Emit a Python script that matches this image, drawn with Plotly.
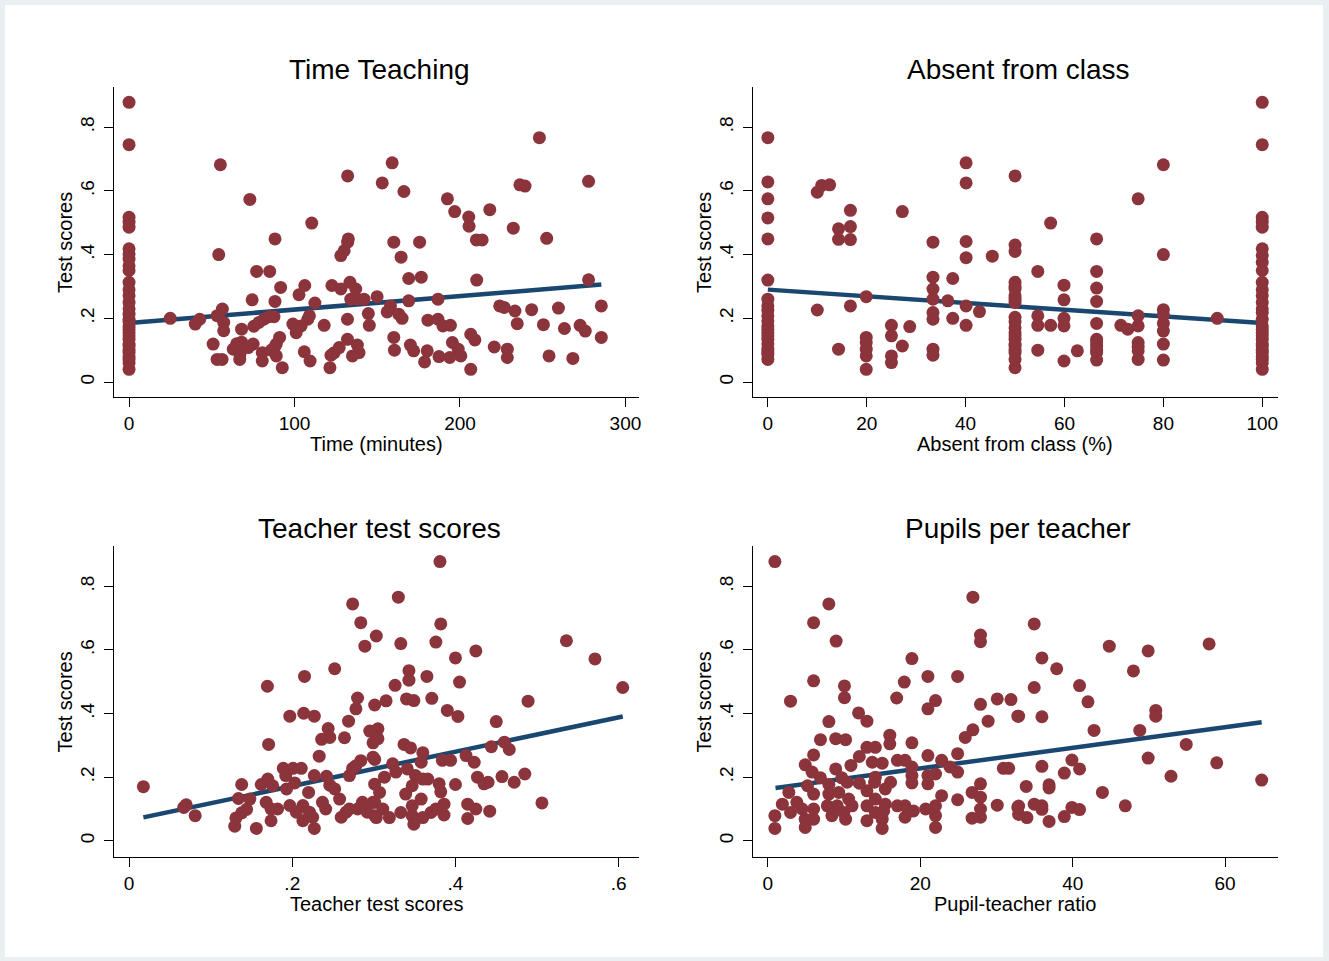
import plotly.graph_objects as go

# ---------------- data ----------------
# Panel 1: Time Teaching (minutes) vs test scores
time_x = [0]*31 + [
    24.9, 40.0, 42.7, 55.2, 54.2, 56.4, 53.2, 57.2, 57.2, 50.8, 53.2, 56.2, 68.0, 73.0, 74.4, 77.1, 85.0,
    75.4, 78.5, 81.5, 84.5, 87.6, 65, 68, 72, 75, 67, 63, 66.9, 80.5, 80.5, 86, 89, 91, 89, 88, 92.6,
    88.2, 91.6, 88.2, 102.7, 106.2, 99, 101, 104, 108, 109, 105.9, 109.4, 110.4, 112.3, 117.9, 121.4,
    122, 124, 127, 122.6, 128, 130, 132.1, 132.5, 132.1, 128, 133.5, 137, 134, 138, 142, 149.9, 132,
    132, 138, 139, 135, 144.6, 145.2, 153,
    248.0, 159.0, 166.1, 192.4, 196.8, 205.3, 205.5, 218.0, 236.2, 239.3, 277.7, 232.2, 252.4, 209.9,
    213.4, 160.0, 175.6, 164.4, 169, 176.6, 210.1, 277.7, 169, 186.7, 158, 156, 163, 165, 180.6, 186.7,
    189.7, 194.2, 160, 160.4, 170, 172, 178.6, 180.2, 187.3, 193.8, 195.4, 198.9, 200.5, 206.5, 209,
    206.5, 224, 226.7, 233.2, 234.6, 220.7, 228.6, 228.6, 243.3, 250.4, 259.5, 263.1, 253.8, 268.2,
    272.6, 275.7, 285.4, 285.4]
time_y = [0.878, 0.745, 0.517, 0.502, 0.486, 0.418, 0.402, 0.386, 0.365, 0.350, 0.313, 0.271, 0.250,
          0.213, 0.197, 0.176, 0.155, 0.134, 0.113, 0.092, 0.071, 0.040, 0.29, 0.23, 0.19, 0.165, 0.145,
          0.12, 0.10, 0.08, 0.06] + [
    0.200, 0.182, 0.197, 0.682, 0.400, 0.229, 0.208, 0.187, 0.161, 0.119, 0.071, 0.071, 0.166, 0.573,
    0.258, 0.347, 0.347, 0.175, 0.187, 0.197, 0.205, 0.205, 0.12, 0.125, 0.108, 0.119, 0.087, 0.103,
    0.071, 0.092, 0.066, 0.10, 0.119, 0.14, 0.082, 0.11, 0.045, 0.449, 0.297, 0.253, 0.274, 0.303,
    0.182, 0.155, 0.176, 0.197, 0.208, 0.095, 0.066, 0.499, 0.248, 0.178, 0.045, 0.084, 0.092, 0.108,
    0.303, 0.397, 0.412, 0.439, 0.449, 0.647, 0.292, 0.313, 0.292, 0.26, 0.26, 0.26, 0.268, 0.197,
    0.134, 0.116, 0.092, 0.082, 0.215, 0.178, 0.625,
    0.767, 0.688, 0.598, 0.575, 0.535, 0.518, 0.489, 0.541, 0.619, 0.615, 0.630, 0.483, 0.451, 0.446,
    0.446, 0.439, 0.439, 0.392, 0.325, 0.329, 0.320, 0.321, 0.255, 0.260, 0.239, 0.220, 0.213, 0.200,
    0.194, 0.197, 0.176, 0.178, 0.140, 0.100, 0.116, 0.098, 0.063, 0.098, 0.080, 0.077, 0.124, 0.103,
    0.082, 0.150, 0.132, 0.040, 0.239, 0.234, 0.223, 0.183, 0.110, 0.103, 0.077, 0.227, 0.180, 0.232,
    0.168, 0.082, 0.074, 0.178, 0.160, 0.239, 0.140]
time_fit_x = [0, 285.4]
time_fit_y = [0.185, 0.306]

# Panel 2: Absent from class (%)
absent_x = [0]*21 + [
    10.0, 10.9, 12.5, 10.0, 14.3, 16.7, 14.3, 16.7, 16.7, 14.3, 16.7, 19.9, 19.9, 19.9, 19.9, 19.9,
    19.9, 25, 25, 25, 25, 27.2, 27.2, 28.7, 33.4, 33.4, 33.4, 33.4, 33.4, 33.4, 33.4, 33.4, 37.4,
    36.4, 37.4, 40.1, 40.1, 40.1, 40.1, 40.1, 40.1, 42.8, 45.4] + [50]*21 + [
    57.2, 54.6, 54.6, 54.6, 54.6, 57.2, 59.9, 59.9, 59.9, 59.9, 59.9, 62.6] + [66.5]*11 + [
    71.4, 72.8] + [74.9]*7 + [80]*8 + [90.9] + [100]*29
absent_y = [0.767, 0.628, 0.575, 0.515, 0.449, 0.320, 0.260, 0.239, 0.208, 0.192, 0.176, 0.155, 0.134,
            0.103, 0.087, 0.071, 0.225, 0.165, 0.145, 0.12, 0.095] + [
    0.596, 0.617, 0.619, 0.226, 0.481, 0.488, 0.448, 0.447, 0.539, 0.103, 0.239, 0.268, 0.140, 0.124,
    0.103, 0.082, 0.040, 0.178, 0.145, 0.082, 0.061, 0.535, 0.113, 0.174, 0.439, 0.329, 0.292, 0.260,
    0.218, 0.197, 0.103, 0.084, 0.325, 0.255, 0.200, 0.688, 0.625, 0.441, 0.390, 0.239, 0.178, 0.221,
    0.395] + [
    0.647, 0.430, 0.410, 0.313, 0.292, 0.271, 0.250, 0.203, 0.155, 0.134, 0.113, 0.092, 0.071, 0.045,
    0.30, 0.26, 0.19, 0.17, 0.145, 0.12, 0.10] + [
    0.499, 0.347, 0.208, 0.178, 0.100, 0.178, 0.304, 0.258, 0.200, 0.176, 0.066, 0.098] + [
    0.449, 0.347, 0.295, 0.253, 0.184, 0.134, 0.113, 0.092, 0.069, 0.124, 0.10] + [
    0.178, 0.166] + [0.575, 0.208, 0.176, 0.124, 0.098, 0.071, 0.11] + [
    0.682, 0.400, 0.227, 0.184, 0.160, 0.119, 0.069, 0.21] + [0.200] + [
    0.878, 0.745, 0.517, 0.502, 0.486, 0.418, 0.397, 0.376, 0.350, 0.313, 0.271, 0.250, 0.218, 0.197,
    0.176, 0.155, 0.134, 0.113, 0.092, 0.071, 0.040, 0.29, 0.23, 0.165, 0.145, 0.12, 0.10, 0.08, 0.06]
absent_fit_x = [0, 100]
absent_fit_y = [0.290, 0.185]

# Panel 3: Teacher test scores
teacher_x = [
    0.0175, 0.067, 0.070, 0.081, 0.1295, 0.131, 0.138, 0.144, 0.148, 0.134, 0.138, 0.156, 0.1695, 0.171,
    0.162, 0.170, 0.176, 0.168, 0.174, 0.182, 0.174, 0.197, 0.214, 0.227, 0.215, 0.189, 0.201, 0.211,
    0.192, 0.203, 0.193, 0.197, 0.205, 0.213, 0.221, 0.213, 0.227, 0.225, 0.237, 0.241, 0.220, 0.227,
    0.233, 0.236, 0.244, 0.246, 0.242, 0.252, 0.246, 0.252, 0.258, 0.260, 0.266, 0.270, 0.264, 0.269,
    0.270, 0.274, 0.278, 0.284, 0.278, 0.280, 0.274, 0.284, 0.289, 0.303, 0.280, 0.286, 0.292, 0.301,
    0.295, 0.299, 0.301, 0.301, 0.301, 0.299,
    0.381, 0.330, 0.382, 0.333, 0.376, 0.400, 0.425, 0.536, 0.571, 0.605, 0.343, 0.343, 0.365, 0.326,
    0.405, 0.315, 0.340, 0.349, 0.371, 0.390, 0.403, 0.489, 0.450, 0.444, 0.460, 0.466, 0.305, 0.305,
    0.299,
    0.337, 0.345, 0.360, 0.358, 0.323, 0.327, 0.341, 0.351, 0.360, 0.347, 0.366, 0.339, 0.358, 0.347,
    0.333, 0.347, 0.360, 0.370, 0.349, 0.313, 0.307, 0.301, 0.311, 0.319, 0.303, 0.380, 0.382, 0.386,
    0.386, 0.376, 0.384, 0.394, 0.400, 0.413, 0.423, 0.427, 0.435, 0.440, 0.415, 0.425, 0.415, 0.442,
    0.457, 0.472, 0.485, 0.506]
teacher_y = [
    0.170, 0.105, 0.113, 0.079, 0.046, 0.072, 0.088, 0.099, 0.131, 0.133, 0.177, 0.039, 0.486, 0.303,
    0.177, 0.194, 0.173, 0.121, 0.100, 0.100, 0.063, 0.392, 0.401, 0.392, 0.517, 0.228, 0.228, 0.228,
    0.205, 0.182, 0.163, 0.111, 0.090, 0.111, 0.090, 0.063, 0.039, 0.074, 0.121, 0.100, 0.152, 0.205,
    0.266, 0.319, 0.353, 0.325, 0.203, 0.541, 0.175, 0.163, 0.131, 0.074, 0.090, 0.100, 0.324, 0.376,
    0.205, 0.228, 0.236, 0.252, 0.415, 0.449, 0.745, 0.686, 0.612, 0.644, 0.100, 0.121, 0.090, 0.427,
    0.345, 0.308, 0.256, 0.178, 0.079, 0.121,
    0.878, 0.766, 0.682, 0.620, 0.625, 0.575, 0.597, 0.629, 0.572, 0.482, 0.535, 0.505, 0.517, 0.489,
    0.499, 0.440, 0.446, 0.441, 0.448, 0.410, 0.391, 0.439, 0.375, 0.296, 0.310, 0.287, 0.352, 0.321,
    0.263,
    0.303, 0.292, 0.277, 0.247, 0.242, 0.216, 0.226, 0.205, 0.194, 0.173, 0.194, 0.147, 0.131, 0.110,
    0.089, 0.079, 0.073, 0.089, 0.052, 0.200, 0.152, 0.121, 0.100, 0.073, 0.073, 0.179, 0.154, 0.115,
    0.081, 0.100, 0.253, 0.253, 0.177, 0.268, 0.247, 0.200, 0.179, 0.184, 0.115, 0.100, 0.070, 0.093,
    0.202, 0.184, 0.210, 0.119]
teacher_fit_x = [0.0175, 0.605]
teacher_fit_y = [0.0735, 0.391]

# Panel 4: Pupil-teacher ratio
ratio_x = [
    0.92, 0.92, 0.92, 8.0, 6.0, 8.96, 2.97, 6.0, 10.05, 10.05, 8.0, 11.9, 13.0, 6.9, 8.9, 10.2, 6.0, 4.9,
    5.8, 6.9, 8.0, 8.9, 9.7, 10.4, 2.75, 1.9, 2.97, 3.8, 4.9, 4.9, 4.5, 6.0, 6.0, 5.2, 6.0, 7.8, 8.4,
    9.1, 9.96, 10.2, 11.05, 8.0, 9.3, 10.6, 10.9, 12.0, 12.0, 13.0, 14.1, 13.7, 15.0, 14.1, 14.0, 13.0,
    14.1, 13.0, 14.1, 13.0, 15.0, 15.0, 15.4, 16.1, 15.4, 15.2, 16.0, 16.0, 16.9, 17.9, 18.9, 18.9,
    17.0, 18.0, 18.9, 18.9, 18.9, 17.0, 18.0, 18.0, 19.1, 21.0, 21.0, 22.0, 21.0, 21.0, 21.0, 22.0,
    20.7, 22.0, 22.0, 22.0, 22.8, 22.8, 23.9, 24.9, 24.9, 24.9, 24.9, 26.9, 27.9, 27.9, 25.9, 26.9,
    27.9, 28.9, 30.1, 31.9, 30.9, 26.8, 27.9, 27.9, 27.9, 27.9, 26.8, 30.1, 32.8, 32.8,
    34.95, 44.8, 49.9, 57.9, 35.96, 37.9, 47.97, 34.95, 40.9, 42.0, 32.9, 35.96, 50.9, 50.9, 42.8,
    48.8, 54.9, 49.9, 58.9, 31.6, 35.96, 39.9, 40.9, 38.9, 52.9, 64.8, 33.9, 36.9, 36.9, 43.9, 32.9,
    32.9, 33.99, 34.95, 35.96, 35.96, 36.9, 38.9, 39.9, 40.9, 46.9]
ratio_y = [
    0.878, 0.079, 0.039, 0.745, 0.686, 0.628, 0.439, 0.503, 0.487, 0.450, 0.375, 0.402, 0.376, 0.318,
    0.321, 0.318, 0.270, 0.239, 0.216, 0.198, 0.177, 0.226, 0.198, 0.184, 0.152, 0.115, 0.089, 0.121,
    0.068, 0.042, 0.100, 0.100, 0.068, 0.173, 0.147, 0.110, 0.079, 0.110, 0.089, 0.068, 0.110, 0.147,
    0.152, 0.131, 0.237, 0.265, 0.181, 0.294, 0.294, 0.247, 0.244, 0.200, 0.184, 0.157, 0.131, 0.110,
    0.089, 0.063, 0.068, 0.039, 0.163, 0.184, 0.115, 0.094, 0.332, 0.305, 0.449, 0.499, 0.573, 0.308,
    0.253, 0.253, 0.232, 0.205, 0.182, 0.110, 0.110, 0.074, 0.094, 0.517, 0.415, 0.441, 0.268, 0.205,
    0.179, 0.210, 0.100, 0.110, 0.079, 0.042, 0.253, 0.142, 0.232, 0.274, 0.216, 0.517, 0.129, 0.766,
    0.647, 0.626, 0.325, 0.349, 0.429, 0.376, 0.446, 0.444, 0.228, 0.152, 0.179, 0.137, 0.100, 0.074,
    0.071, 0.112, 0.392, 0.105,
    0.682, 0.612, 0.597, 0.619, 0.575, 0.541, 0.534, 0.482, 0.488, 0.437, 0.392, 0.390, 0.410, 0.392,
    0.347, 0.347, 0.303, 0.260, 0.245, 0.228, 0.234, 0.254, 0.226, 0.213, 0.203, 0.191, 0.171, 0.176,
    0.166, 0.152, 0.109, 0.083, 0.073, 0.115, 0.110, 0.099, 0.061, 0.076, 0.105, 0.098, 0.110]
ratio_fit_x = [1.0, 64.8]
ratio_fit_y = [0.166, 0.373]

y_tickvals = [0, 0.2, 0.4, 0.6, 0.8]
y_ticktext = ["0", ".2", ".4", ".6", ".8"]

titles = ["Time Teaching", "Absent from class", "Teacher test scores", "Pupils per teacher"]
xtitles = ["Time (minutes)", "Absent from class (%)", "Teacher test scores", "Pupil-teacher ratio"]
ytitle = "Test scores"

# ---------------- figure ----------------
W, H = 1329, 961
FONT = "Liberation Sans, Arial, sans-serif"
DOT = "#8c343b"
LINE = "#1a476f"

def fx(p):
    return p / W

def fy(p):
    return 1 - p / H

# pixel boxes: (left, right, top, bottom)
boxes = [(114, 640, 87, 397), (754, 1280, 87, 397), (114, 640, 546, 857), (754, 1280, 546, 857)]
xranges = [[-9.2, 308.2], [-3.03, 103.2], [-0.0187, 0.625], [-1.97, 66.95]]
yranges = [[-0.047, 0.926], [-0.047, 0.926], [-0.051, 0.927], [-0.051, 0.927]]
xticks = [([0, 100, 200, 300], ["0", "100", "200", "300"]),
          ([0, 20, 40, 60, 80, 100], ["0", "20", "40", "60", "80", "100"]),
          ([0, 0.2, 0.4, 0.6], ["0", ".2", ".4", ".6"]),
          ([0, 20, 40, 60], ["0", "20", "40", "60"])]
data = [(time_x, time_y, time_fit_x, time_fit_y),
        (absent_x, absent_y, absent_fit_x, absent_fit_y),
        (teacher_x, teacher_y, teacher_fit_x, teacher_fit_y),
        (ratio_x, ratio_y, ratio_fit_x, ratio_fit_y)]

fig = go.Figure()
layout = dict(
    width=W, height=H, margin=dict(l=0, r=0, t=0, b=0),
    paper_bgcolor="#eaeff2", plot_bgcolor="white", showlegend=False,
    font=dict(family=FONT, color="black", size=19),
)
annotations = []
for i in range(4):
    sfx = "" if i == 0 else str(i + 1)
    xa, ya = "x" + sfx, "y" + sfx
    xs, ys, fxs, fys = data[i]
    fig.add_trace(go.Scatter(x=fxs, y=fys, mode="lines", xaxis=xa, yaxis=ya,
                             line=dict(color=LINE, width=4.5), hoverinfo="skip"))
    fig.add_trace(go.Scatter(x=xs, y=ys, mode="markers", xaxis=xa, yaxis=ya,
                             marker=dict(color=DOT, size=13, line=dict(width=0))))
    l, r, t, b = boxes[i]
    common = dict(showline=True, linecolor="black", linewidth=1.3, ticks="outside", ticklen=9,
                  tickwidth=1.3, tickcolor="black", showgrid=False, zeroline=False,
                  tickfont=dict(family=FONT, size=19, color="black"))
    layout["xaxis" + sfx] = dict(domain=[fx(l), fx(r)], anchor=ya, range=xranges[i],
                                 tickmode="array", tickvals=xticks[i][0], ticktext=xticks[i][1],
                                 **common)
    layout["yaxis" + sfx] = dict(domain=[fy(b), fy(t)], anchor=xa, range=yranges[i],
                                 tickmode="array", tickvals=y_tickvals, ticktext=y_ticktext,
                                 tickangle=-90, ticklabelstandoff=2, **common)
    cx = (l + r) / 2
    annotations.append(dict(text=titles[i], x=fx(cx + 3), y=fy(t - 18), xref="paper", yref="paper",
                            showarrow=False, xanchor="center", yanchor="middle",
                            font=dict(family=FONT, size=28, color="black")))
    annotations.append(dict(text=xtitles[i], x=fx(cx), y=fy(b + 47), xref="paper", yref="paper",
                            showarrow=False, xanchor="center", yanchor="middle",
                            font=dict(family=FONT, size=20, color="black")))
    annotations.append(dict(text=ytitle, x=fx(l - 49), y=fy((t + b) / 2), xref="paper", yref="paper",
                            showarrow=False, xanchor="center", yanchor="middle", textangle=-90,
                            font=dict(family=FONT, size=20, color="black")))

layout["annotations"] = annotations
layout["shapes"] = [dict(type="rect", xref="paper", yref="paper", x0=fx(5), x1=fx(1325),
                         y0=fy(957), y1=fy(5), fillcolor="white", line=dict(width=0), layer="below")]
fig.update_layout(**layout)
fig.write_html("out.html", config={"displayModeBar": False},
               post_script="document.body.style.margin='0px';document.body.style.overflow='hidden';")
